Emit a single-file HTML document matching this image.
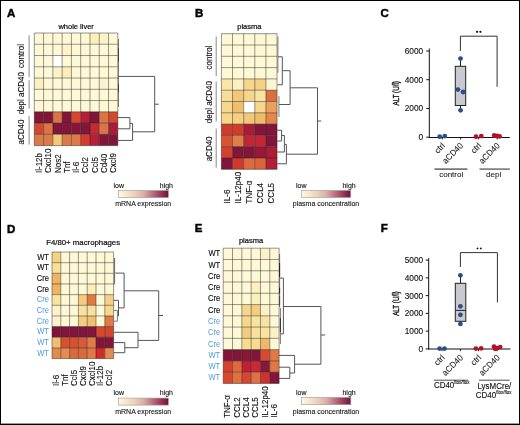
<!DOCTYPE html><html><head><meta charset="utf-8"><style>html,body{margin:0;padding:0;background:#fff;}body{width:520px;height:425px;overflow:hidden;position:relative;}</style></head><body><svg width="520" height="425" viewBox="0 0 520 425" style="position:absolute;left:0;top:0;will-change:transform">
<defs><linearGradient id="cb" x1="0" x2="1" y1="0" y2="0"><stop offset="0" stop-color="#fffbe0"/><stop offset="0.3" stop-color="#eed4bc"/><stop offset="0.5" stop-color="#dcb0aa"/><stop offset="0.7" stop-color="#b86a7a"/><stop offset="0.85" stop-color="#983858"/><stop offset="1" stop-color="#7c0c34"/></linearGradient></defs>
<g font-family='"Liberation Sans", sans-serif'>
<rect x="0.00" y="0.00" width="520.00" height="1.00" fill="#000" />
<rect x="0.00" y="0.00" width="1.00" height="425.00" fill="#000" />
<rect x="519.00" y="0.00" width="1.00" height="425.00" fill="#000" />
<rect x="0.00" y="423.60" width="520.00" height="1.40" fill="#000" />
<text font-size="11.5" text-anchor="start" fill="#000" font-weight="bold" transform="translate(7.00 16.70)" stroke="#000" stroke-width="0.45" >A</text>
<text font-size="11.5" text-anchor="start" fill="#000" font-weight="bold" transform="translate(195.00 16.80)" stroke="#000" stroke-width="0.45" >B</text>
<text font-size="11.5" text-anchor="start" fill="#000" font-weight="bold" transform="translate(380.40 16.80)" stroke="#000" stroke-width="0.45" >C</text>
<text font-size="11.5" text-anchor="start" fill="#000" font-weight="bold" transform="translate(7.00 232.50)" stroke="#000" stroke-width="0.45" >D</text>
<text font-size="11.5" text-anchor="start" fill="#000" font-weight="bold" transform="translate(194.80 232.30)" stroke="#000" stroke-width="0.45" >E</text>
<text font-size="11.5" text-anchor="start" fill="#000" font-weight="bold" transform="translate(380.80 232.30)" stroke="#000" stroke-width="0.45" >F</text>
<text font-size="7.5" text-anchor="middle" fill="#111" font-weight="normal" transform="translate(76.10 29.40)" stroke="#111" stroke-width="0.22" >whole liver</text>
<rect x="34.30" y="33.00" width="9.28" height="11.26" fill="#fdf9d7" />
<rect x="43.58" y="33.00" width="9.28" height="11.26" fill="#fdf9d7" />
<rect x="52.86" y="33.00" width="9.28" height="11.26" fill="#fdf9d7" />
<rect x="62.14" y="33.00" width="9.28" height="11.26" fill="#fdf9d7" />
<rect x="71.42" y="33.00" width="9.28" height="11.26" fill="#fdf9d7" />
<rect x="80.70" y="33.00" width="9.28" height="11.26" fill="#fdf9d7" />
<rect x="89.98" y="33.00" width="9.28" height="11.26" fill="#fbefbe" />
<rect x="99.26" y="33.00" width="9.28" height="11.26" fill="#fbf2c8" />
<rect x="108.54" y="33.00" width="9.28" height="11.26" fill="#fdf9d7" />
<rect x="34.30" y="44.26" width="9.28" height="11.26" fill="#fdf9d7" />
<rect x="43.58" y="44.26" width="9.28" height="11.26" fill="#fdf9d7" />
<rect x="52.86" y="44.26" width="9.28" height="11.26" fill="#fdf9d7" />
<rect x="62.14" y="44.26" width="9.28" height="11.26" fill="#fbf4cc" />
<rect x="71.42" y="44.26" width="9.28" height="11.26" fill="#fdf9d7" />
<rect x="80.70" y="44.26" width="9.28" height="11.26" fill="#fdf9d7" />
<rect x="89.98" y="44.26" width="9.28" height="11.26" fill="#fdf9d7" />
<rect x="99.26" y="44.26" width="9.28" height="11.26" fill="#fdf9d7" />
<rect x="108.54" y="44.26" width="9.28" height="11.26" fill="#fdf9d7" />
<rect x="34.30" y="55.52" width="9.28" height="11.26" fill="#fdf9d7" />
<rect x="43.58" y="55.52" width="9.28" height="11.26" fill="#fdf9d7" />
<rect x="52.86" y="55.52" width="9.28" height="11.26" fill="#ffffff" />
<rect x="62.14" y="55.52" width="9.28" height="11.26" fill="#fdf9d7" />
<rect x="71.42" y="55.52" width="9.28" height="11.26" fill="#fdf9d7" />
<rect x="80.70" y="55.52" width="9.28" height="11.26" fill="#fdf9d7" />
<rect x="89.98" y="55.52" width="9.28" height="11.26" fill="#fdf9d7" />
<rect x="99.26" y="55.52" width="9.28" height="11.26" fill="#fdf9d7" />
<rect x="108.54" y="55.52" width="9.28" height="11.26" fill="#fdf9d7" />
<rect x="34.30" y="66.78" width="9.28" height="11.26" fill="#fdf9d7" />
<rect x="43.58" y="66.78" width="9.28" height="11.26" fill="#fdf9d7" />
<rect x="52.86" y="66.78" width="9.28" height="11.26" fill="#fbf3c8" />
<rect x="62.14" y="66.78" width="9.28" height="11.26" fill="#faedb8" />
<rect x="71.42" y="66.78" width="9.28" height="11.26" fill="#fdf9d7" />
<rect x="80.70" y="66.78" width="9.28" height="11.26" fill="#fdf9d7" />
<rect x="89.98" y="66.78" width="9.28" height="11.26" fill="#fdf9d7" />
<rect x="99.26" y="66.78" width="9.28" height="11.26" fill="#fdf9d7" />
<rect x="108.54" y="66.78" width="9.28" height="11.26" fill="#fdf9d7" />
<rect x="34.30" y="78.04" width="9.28" height="11.26" fill="#fbf0c4" />
<rect x="43.58" y="78.04" width="9.28" height="11.26" fill="#fdf9d7" />
<rect x="52.86" y="78.04" width="9.28" height="11.26" fill="#fdf9d7" />
<rect x="62.14" y="78.04" width="9.28" height="11.26" fill="#fdf9d7" />
<rect x="71.42" y="78.04" width="9.28" height="11.26" fill="#fdf9d7" />
<rect x="80.70" y="78.04" width="9.28" height="11.26" fill="#fdf9d7" />
<rect x="89.98" y="78.04" width="9.28" height="11.26" fill="#fdf9d7" />
<rect x="99.26" y="78.04" width="9.28" height="11.26" fill="#fbf3cc" />
<rect x="108.54" y="78.04" width="9.28" height="11.26" fill="#fdf9d7" />
<rect x="34.30" y="89.30" width="9.28" height="11.26" fill="#fdf9d7" />
<rect x="43.58" y="89.30" width="9.28" height="11.26" fill="#fdf9d7" />
<rect x="52.86" y="89.30" width="9.28" height="11.26" fill="#fdf9d7" />
<rect x="62.14" y="89.30" width="9.28" height="11.26" fill="#fdf9d7" />
<rect x="71.42" y="89.30" width="9.28" height="11.26" fill="#fdf9d7" />
<rect x="80.70" y="89.30" width="9.28" height="11.26" fill="#fdf9d7" />
<rect x="89.98" y="89.30" width="9.28" height="11.26" fill="#fdf9d7" />
<rect x="99.26" y="89.30" width="9.28" height="11.26" fill="#fdf9d7" />
<rect x="108.54" y="89.30" width="9.28" height="11.26" fill="#fdf9d7" />
<rect x="34.30" y="100.56" width="9.28" height="11.26" fill="#fdf9d7" />
<rect x="43.58" y="100.56" width="9.28" height="11.26" fill="#fdf9d7" />
<rect x="52.86" y="100.56" width="9.28" height="11.26" fill="#fdf9d7" />
<rect x="62.14" y="100.56" width="9.28" height="11.26" fill="#fdf9d7" />
<rect x="71.42" y="100.56" width="9.28" height="11.26" fill="#fdf9d7" />
<rect x="80.70" y="100.56" width="9.28" height="11.26" fill="#fdf9d7" />
<rect x="89.98" y="100.56" width="9.28" height="11.26" fill="#fdf9d7" />
<rect x="99.26" y="100.56" width="9.28" height="11.26" fill="#fdf9d7" />
<rect x="108.54" y="100.56" width="9.28" height="11.26" fill="#fdf9d7" />
<rect x="34.30" y="111.82" width="9.28" height="11.26" fill="#82163a" />
<rect x="43.58" y="111.82" width="9.28" height="11.26" fill="#82163a" />
<rect x="52.86" y="111.82" width="9.28" height="11.26" fill="#db7447" />
<rect x="62.14" y="111.82" width="9.28" height="11.26" fill="#82163a" />
<rect x="71.42" y="111.82" width="9.28" height="11.26" fill="#d5472f" />
<rect x="80.70" y="111.82" width="9.28" height="11.26" fill="#b51f3a" />
<rect x="89.98" y="111.82" width="9.28" height="11.26" fill="#82163a" />
<rect x="99.26" y="111.82" width="9.28" height="11.26" fill="#db7447" />
<rect x="108.54" y="111.82" width="9.28" height="11.26" fill="#d5472f" />
<rect x="34.30" y="123.08" width="9.28" height="11.26" fill="#d5472f" />
<rect x="43.58" y="123.08" width="9.28" height="11.26" fill="#db7447" />
<rect x="52.86" y="123.08" width="9.28" height="11.26" fill="#82163a" />
<rect x="62.14" y="123.08" width="9.28" height="11.26" fill="#82163a" />
<rect x="71.42" y="123.08" width="9.28" height="11.26" fill="#82163a" />
<rect x="80.70" y="123.08" width="9.28" height="11.26" fill="#82163a" />
<rect x="89.98" y="123.08" width="9.28" height="11.26" fill="#c42a36" />
<rect x="99.26" y="123.08" width="9.28" height="11.26" fill="#db7447" />
<rect x="108.54" y="123.08" width="9.28" height="11.26" fill="#a81d3a" />
<rect x="34.30" y="134.34" width="9.28" height="11.26" fill="#dc7a49" />
<rect x="43.58" y="134.34" width="9.28" height="11.26" fill="#dc7a49" />
<rect x="52.86" y="134.34" width="9.28" height="11.26" fill="#f2c97a" />
<rect x="62.14" y="134.34" width="9.28" height="11.26" fill="#dc7a49" />
<rect x="71.42" y="134.34" width="9.28" height="11.26" fill="#dc7a49" />
<rect x="80.70" y="134.34" width="9.28" height="11.26" fill="#d53b2e" />
<rect x="89.98" y="134.34" width="9.28" height="11.26" fill="#b51f3a" />
<rect x="99.26" y="134.34" width="9.28" height="11.26" fill="#82163a" />
<rect x="108.54" y="134.34" width="9.28" height="11.26" fill="#82163a" />
<line x1="34.30" y1="33.00" x2="34.30" y2="145.60" stroke="rgba(30,25,15,0.5)" stroke-width="0.9" />
<line x1="43.58" y1="33.00" x2="43.58" y2="145.60" stroke="rgba(30,25,15,0.5)" stroke-width="0.9" />
<line x1="52.86" y1="33.00" x2="52.86" y2="145.60" stroke="rgba(30,25,15,0.5)" stroke-width="0.9" />
<line x1="62.14" y1="33.00" x2="62.14" y2="145.60" stroke="rgba(30,25,15,0.5)" stroke-width="0.9" />
<line x1="71.42" y1="33.00" x2="71.42" y2="145.60" stroke="rgba(30,25,15,0.5)" stroke-width="0.9" />
<line x1="80.70" y1="33.00" x2="80.70" y2="145.60" stroke="rgba(30,25,15,0.5)" stroke-width="0.9" />
<line x1="89.98" y1="33.00" x2="89.98" y2="145.60" stroke="rgba(30,25,15,0.5)" stroke-width="0.9" />
<line x1="99.26" y1="33.00" x2="99.26" y2="145.60" stroke="rgba(30,25,15,0.5)" stroke-width="0.9" />
<line x1="108.54" y1="33.00" x2="108.54" y2="145.60" stroke="rgba(30,25,15,0.5)" stroke-width="0.9" />
<line x1="117.82" y1="33.00" x2="117.82" y2="145.60" stroke="rgba(30,25,15,0.5)" stroke-width="0.9" />
<line x1="34.30" y1="33.00" x2="117.82" y2="33.00" stroke="rgba(30,25,15,0.5)" stroke-width="0.9" />
<line x1="34.30" y1="44.26" x2="117.82" y2="44.26" stroke="rgba(30,25,15,0.5)" stroke-width="0.9" />
<line x1="34.30" y1="55.52" x2="117.82" y2="55.52" stroke="rgba(30,25,15,0.5)" stroke-width="0.9" />
<line x1="34.30" y1="66.78" x2="117.82" y2="66.78" stroke="rgba(30,25,15,0.5)" stroke-width="0.9" />
<line x1="34.30" y1="78.04" x2="117.82" y2="78.04" stroke="rgba(30,25,15,0.5)" stroke-width="0.9" />
<line x1="34.30" y1="89.30" x2="117.82" y2="89.30" stroke="rgba(30,25,15,0.5)" stroke-width="0.9" />
<line x1="34.30" y1="100.56" x2="117.82" y2="100.56" stroke="rgba(30,25,15,0.5)" stroke-width="0.9" />
<line x1="34.30" y1="111.82" x2="117.82" y2="111.82" stroke="rgba(30,25,15,0.5)" stroke-width="0.9" />
<line x1="34.30" y1="123.08" x2="117.82" y2="123.08" stroke="rgba(30,25,15,0.5)" stroke-width="0.9" />
<line x1="34.30" y1="134.34" x2="117.82" y2="134.34" stroke="rgba(30,25,15,0.5)" stroke-width="0.9" />
<line x1="34.30" y1="145.60" x2="117.82" y2="145.60" stroke="rgba(30,25,15,0.5)" stroke-width="0.9" />
<line x1="29.10" y1="35.40" x2="29.10" y2="77.10" stroke="#888" stroke-width="1" />
<line x1="29.10" y1="80.30" x2="29.10" y2="108.50" stroke="#888" stroke-width="1" />
<line x1="29.10" y1="116.00" x2="29.10" y2="144.70" stroke="#888" stroke-width="1" />
<text font-size="8" text-anchor="middle" fill="#111" font-weight="normal" transform="translate(24.20 56.00) rotate(-90) scale(1.0 1.1)" stroke="#111" stroke-width="0.12" >control</text>
<text font-size="8" text-anchor="middle" fill="#111" font-weight="normal" transform="translate(24.20 93.20) rotate(-90) scale(1.0 1.1)" stroke="#111" stroke-width="0.12" >depl aCD40</text>
<text font-size="8" text-anchor="middle" fill="#111" font-weight="normal" transform="translate(24.20 132.00) rotate(-90) scale(1.0 1.1)" stroke="#111" stroke-width="0.12" >aCD40</text>
<text font-size="8" text-anchor="start" fill="#111" font-weight="normal" transform="translate(41.94 173.00) rotate(-90) scale(1.0 1.1)" stroke="#111" stroke-width="0.12" >Il-12b</text>
<text font-size="8" text-anchor="start" fill="#111" font-weight="normal" transform="translate(51.22 173.00) rotate(-90) scale(1.0 1.1)" stroke="#111" stroke-width="0.12" >Cxcl10</text>
<text font-size="8" text-anchor="start" fill="#111" font-weight="normal" transform="translate(60.50 173.00) rotate(-90) scale(1.0 1.1)" stroke="#111" stroke-width="0.12" >Nos2</text>
<text font-size="8" text-anchor="start" fill="#111" font-weight="normal" transform="translate(69.78 173.00) rotate(-90) scale(1.0 1.1)" stroke="#111" stroke-width="0.12" >Tnf</text>
<text font-size="8" text-anchor="start" fill="#111" font-weight="normal" transform="translate(79.06 173.00) rotate(-90) scale(1.0 1.1)" stroke="#111" stroke-width="0.12" >Il-6</text>
<text font-size="8" text-anchor="start" fill="#111" font-weight="normal" transform="translate(88.34 173.00) rotate(-90) scale(1.0 1.1)" stroke="#111" stroke-width="0.12" >Ccl2</text>
<text font-size="8" text-anchor="start" fill="#111" font-weight="normal" transform="translate(97.62 173.00) rotate(-90) scale(1.0 1.1)" stroke="#111" stroke-width="0.12" >Ccl5</text>
<text font-size="8" text-anchor="start" fill="#111" font-weight="normal" transform="translate(106.90 173.00) rotate(-90) scale(1.0 1.1)" stroke="#111" stroke-width="0.12" >Cd40</text>
<text font-size="8" text-anchor="start" fill="#111" font-weight="normal" transform="translate(116.18 173.00) rotate(-90) scale(1.0 1.1)" stroke="#111" stroke-width="0.12" >Cxcl9</text>
<line x1="118.50" y1="39.00" x2="118.50" y2="107.00" stroke="#777" stroke-width="1" />
<line x1="118.50" y1="48.00" x2="118.50" y2="62.00" stroke="#444" stroke-width="1" />
<line x1="118.50" y1="84.00" x2="118.50" y2="92.00" stroke="#444" stroke-width="1" />
<polyline points="118.50,76.40 154.70,76.40 154.70,131.80 132.60,131.80" fill="none" stroke="#555" stroke-width="1"/>
<polyline points="117.60,117.60 129.90,117.60 129.90,128.80 117.60,128.80" fill="none" stroke="#555" stroke-width="1"/>
<polyline points="129.90,123.40 132.60,123.40 132.60,140.40 117.60,140.40" fill="none" stroke="#555" stroke-width="1"/>
<line x1="154.70" y1="104.20" x2="158.80" y2="104.20" stroke="#555" stroke-width="1" />
<text font-size="7" text-anchor="start" fill="#111" font-weight="normal" transform="translate(113.50 188.00) scale(1.0 1.1)" stroke="#111" stroke-width="0.12" >low</text>
<text font-size="7" text-anchor="end" fill="#111" font-weight="normal" transform="translate(173.00 188.00) scale(1.0 1.1)" stroke="#111" stroke-width="0.12" >high</text>
<rect x="118.30" y="190.60" width="50.00" height="7.00" fill="url(#cb)" stroke="#999" stroke-width="0.6"/>
<text font-size="7" text-anchor="middle" fill="#111" font-weight="normal" transform="translate(143.20 206.00) scale(1.0 1.1)" stroke="#111" stroke-width="0.1" >mRNA expression</text>
<text font-size="7.5" text-anchor="middle" fill="#111" font-weight="normal" transform="translate(249.30 29.40)" stroke="#111" stroke-width="0.22" >plasma</text>
<rect x="221.40" y="33.70" width="11.13" height="11.30" fill="#fdf9d7" />
<rect x="232.53" y="33.70" width="11.13" height="11.30" fill="#fdf9d7" />
<rect x="243.66" y="33.70" width="11.13" height="11.30" fill="#fdf9d7" />
<rect x="254.79" y="33.70" width="11.13" height="11.30" fill="#fdf9d7" />
<rect x="265.92" y="33.70" width="11.13" height="11.30" fill="#fdf9d7" />
<rect x="221.40" y="45.00" width="11.13" height="11.30" fill="#fdf9d7" />
<rect x="232.53" y="45.00" width="11.13" height="11.30" fill="#fdf9d7" />
<rect x="243.66" y="45.00" width="11.13" height="11.30" fill="#fdf9d7" />
<rect x="254.79" y="45.00" width="11.13" height="11.30" fill="#fdf9d7" />
<rect x="265.92" y="45.00" width="11.13" height="11.30" fill="#fdf9d7" />
<rect x="221.40" y="56.30" width="11.13" height="11.30" fill="#fdf9d7" />
<rect x="232.53" y="56.30" width="11.13" height="11.30" fill="#fdf9d7" />
<rect x="243.66" y="56.30" width="11.13" height="11.30" fill="#fdf9d7" />
<rect x="254.79" y="56.30" width="11.13" height="11.30" fill="#fdf9d7" />
<rect x="265.92" y="56.30" width="11.13" height="11.30" fill="#fdf9d7" />
<rect x="221.40" y="67.60" width="11.13" height="11.30" fill="#fdf9d7" />
<rect x="232.53" y="67.60" width="11.13" height="11.30" fill="#fdf9d7" />
<rect x="243.66" y="67.60" width="11.13" height="11.30" fill="#fdf9d7" />
<rect x="254.79" y="67.60" width="11.13" height="11.30" fill="#fdf9d7" />
<rect x="265.92" y="67.60" width="11.13" height="11.30" fill="#fdf9d7" />
<rect x="221.40" y="78.90" width="11.13" height="11.30" fill="#f9e6a8" />
<rect x="232.53" y="78.90" width="11.13" height="11.30" fill="#fbf0c2" />
<rect x="243.66" y="78.90" width="11.13" height="11.30" fill="#f5d68a" />
<rect x="254.79" y="78.90" width="11.13" height="11.30" fill="#f3d085" />
<rect x="265.92" y="78.90" width="11.13" height="11.30" fill="#fcf5d0" />
<rect x="221.40" y="90.20" width="11.13" height="11.30" fill="#f7de98" />
<rect x="232.53" y="90.20" width="11.13" height="11.30" fill="#f2c878" />
<rect x="243.66" y="90.20" width="11.13" height="11.30" fill="#f5d68a" />
<rect x="254.79" y="90.20" width="11.13" height="11.30" fill="#f8e4a0" />
<rect x="265.92" y="90.20" width="11.13" height="11.30" fill="#d8703f" />
<rect x="221.40" y="101.50" width="11.13" height="11.30" fill="#f5d68a" />
<rect x="232.53" y="101.50" width="11.13" height="11.30" fill="#efbf6c" />
<rect x="243.66" y="101.50" width="11.13" height="11.30" fill="#ffffff" />
<rect x="254.79" y="101.50" width="11.13" height="11.30" fill="#f5d68a" />
<rect x="265.92" y="101.50" width="11.13" height="11.30" fill="#e8a05a" />
<rect x="221.40" y="112.80" width="11.13" height="11.30" fill="#f5d68a" />
<rect x="232.53" y="112.80" width="11.13" height="11.30" fill="#f4d080" />
<rect x="243.66" y="112.80" width="11.13" height="11.30" fill="#f2c878" />
<rect x="254.79" y="112.80" width="11.13" height="11.30" fill="#efbc68" />
<rect x="265.92" y="112.80" width="11.13" height="11.30" fill="#e3874a" />
<rect x="221.40" y="124.10" width="11.13" height="11.30" fill="#d03c2c" />
<rect x="232.53" y="124.10" width="11.13" height="11.30" fill="#d03c2c" />
<rect x="243.66" y="124.10" width="11.13" height="11.30" fill="#a81c38" />
<rect x="254.79" y="124.10" width="11.13" height="11.30" fill="#82163a" />
<rect x="265.92" y="124.10" width="11.13" height="11.30" fill="#82163a" />
<rect x="221.40" y="135.40" width="11.13" height="11.30" fill="#d65432" />
<rect x="232.53" y="135.40" width="11.13" height="11.30" fill="#e07e4a" />
<rect x="243.66" y="135.40" width="11.13" height="11.30" fill="#c02636" />
<rect x="254.79" y="135.40" width="11.13" height="11.30" fill="#c42636" />
<rect x="265.92" y="135.40" width="11.13" height="11.30" fill="#82163a" />
<rect x="221.40" y="146.70" width="11.13" height="11.30" fill="#d4402e" />
<rect x="232.53" y="146.70" width="11.13" height="11.30" fill="#82163a" />
<rect x="243.66" y="146.70" width="11.13" height="11.30" fill="#82163a" />
<rect x="254.79" y="146.70" width="11.13" height="11.30" fill="#98183a" />
<rect x="265.92" y="146.70" width="11.13" height="11.30" fill="#ac1e38" />
<rect x="221.40" y="158.00" width="11.13" height="11.30" fill="#82163a" />
<rect x="232.53" y="158.00" width="11.13" height="11.30" fill="#d4382c" />
<rect x="243.66" y="158.00" width="11.13" height="11.30" fill="#dc6c40" />
<rect x="254.79" y="158.00" width="11.13" height="11.30" fill="#dc643c" />
<rect x="265.92" y="158.00" width="11.13" height="11.30" fill="#b02038" />
<line x1="221.40" y1="33.70" x2="221.40" y2="169.30" stroke="rgba(30,25,15,0.5)" stroke-width="0.9" />
<line x1="232.53" y1="33.70" x2="232.53" y2="169.30" stroke="rgba(30,25,15,0.5)" stroke-width="0.9" />
<line x1="243.66" y1="33.70" x2="243.66" y2="169.30" stroke="rgba(30,25,15,0.5)" stroke-width="0.9" />
<line x1="254.79" y1="33.70" x2="254.79" y2="169.30" stroke="rgba(30,25,15,0.5)" stroke-width="0.9" />
<line x1="265.92" y1="33.70" x2="265.92" y2="169.30" stroke="rgba(30,25,15,0.5)" stroke-width="0.9" />
<line x1="277.05" y1="33.70" x2="277.05" y2="169.30" stroke="rgba(30,25,15,0.5)" stroke-width="0.9" />
<line x1="221.40" y1="33.70" x2="277.05" y2="33.70" stroke="rgba(30,25,15,0.5)" stroke-width="0.9" />
<line x1="221.40" y1="45.00" x2="277.05" y2="45.00" stroke="rgba(30,25,15,0.5)" stroke-width="0.9" />
<line x1="221.40" y1="56.30" x2="277.05" y2="56.30" stroke="rgba(30,25,15,0.5)" stroke-width="0.9" />
<line x1="221.40" y1="67.60" x2="277.05" y2="67.60" stroke="rgba(30,25,15,0.5)" stroke-width="0.9" />
<line x1="221.40" y1="78.90" x2="277.05" y2="78.90" stroke="rgba(30,25,15,0.5)" stroke-width="0.9" />
<line x1="221.40" y1="90.20" x2="277.05" y2="90.20" stroke="rgba(30,25,15,0.5)" stroke-width="0.9" />
<line x1="221.40" y1="101.50" x2="277.05" y2="101.50" stroke="rgba(30,25,15,0.5)" stroke-width="0.9" />
<line x1="221.40" y1="112.80" x2="277.05" y2="112.80" stroke="rgba(30,25,15,0.5)" stroke-width="0.9" />
<line x1="221.40" y1="124.10" x2="277.05" y2="124.10" stroke="rgba(30,25,15,0.5)" stroke-width="0.9" />
<line x1="221.40" y1="135.40" x2="277.05" y2="135.40" stroke="rgba(30,25,15,0.5)" stroke-width="0.9" />
<line x1="221.40" y1="146.70" x2="277.05" y2="146.70" stroke="rgba(30,25,15,0.5)" stroke-width="0.9" />
<line x1="221.40" y1="158.00" x2="277.05" y2="158.00" stroke="rgba(30,25,15,0.5)" stroke-width="0.9" />
<line x1="221.40" y1="169.30" x2="277.05" y2="169.30" stroke="rgba(30,25,15,0.5)" stroke-width="0.9" />
<line x1="216.20" y1="36.50" x2="216.20" y2="76.20" stroke="#888" stroke-width="1" />
<line x1="216.20" y1="81.50" x2="216.20" y2="121.40" stroke="#888" stroke-width="1" />
<line x1="216.20" y1="128.60" x2="216.20" y2="167.60" stroke="#888" stroke-width="1" />
<text font-size="8" text-anchor="middle" fill="#111" font-weight="normal" transform="translate(212.30 57.40) rotate(-90) scale(1.0 1.1)" stroke="#111" stroke-width="0.12" >control</text>
<text font-size="8" text-anchor="middle" fill="#111" font-weight="normal" transform="translate(212.30 102.10) rotate(-90) scale(1.0 1.1)" stroke="#111" stroke-width="0.12" >depl aCD40</text>
<text font-size="8" text-anchor="middle" fill="#111" font-weight="normal" transform="translate(212.30 148.90) rotate(-90) scale(1.0 1.1)" stroke="#111" stroke-width="0.12" >aCD40</text>
<text font-size="8" text-anchor="start" fill="#111" font-weight="normal" transform="translate(229.97 203.40) rotate(-90) scale(1.0 1.1)" stroke="#111" stroke-width="0.12" >IL-6</text>
<text font-size="8" text-anchor="start" fill="#111" font-weight="normal" transform="translate(241.09 203.40) rotate(-90) scale(1.0 1.1)" stroke="#111" stroke-width="0.12" >IL-12p40</text>
<text font-size="8" text-anchor="start" fill="#111" font-weight="normal" transform="translate(252.23 203.40) rotate(-90) scale(1.0 1.1)" stroke="#111" stroke-width="0.12" >TNF-α</text>
<text font-size="8" text-anchor="start" fill="#111" font-weight="normal" transform="translate(263.36 203.40) rotate(-90) scale(1.0 1.1)" stroke="#111" stroke-width="0.12" >CCL4</text>
<text font-size="8" text-anchor="start" fill="#111" font-weight="normal" transform="translate(274.49 203.40) rotate(-90) scale(1.0 1.1)" stroke="#111" stroke-width="0.12" >CCL5</text>
<line x1="277.90" y1="36.60" x2="277.90" y2="72.80" stroke="#777" stroke-width="1" />
<polyline points="277.90,56.80 282.30,56.80 282.30,84.80 277.30,84.80" fill="none" stroke="#555" stroke-width="1"/>
<polyline points="282.30,70.70 290.10,70.70 290.10,104.50 278.90,104.50" fill="none" stroke="#555" stroke-width="1"/>
<line x1="278.90" y1="96.00" x2="278.90" y2="117.00" stroke="#777" stroke-width="1" />
<polyline points="290.10,87.80 317.50,87.80 317.50,154.20 286.40,154.20" fill="none" stroke="#555" stroke-width="1"/>
<polyline points="277.30,130.20 281.60,130.20 281.60,141.00 277.30,141.00" fill="none" stroke="#555" stroke-width="1"/>
<polyline points="281.60,135.50 284.40,135.50 284.40,152.00 277.30,152.00" fill="none" stroke="#555" stroke-width="1"/>
<polyline points="284.40,144.40 286.40,144.40 286.40,163.80 277.30,163.80" fill="none" stroke="#555" stroke-width="1"/>
<line x1="317.50" y1="121.00" x2="321.20" y2="121.00" stroke="#555" stroke-width="1" />
<text font-size="7" text-anchor="start" fill="#111" font-weight="normal" transform="translate(296.00 187.70) scale(1.0 1.1)" stroke="#111" stroke-width="0.12" >low</text>
<text font-size="7" text-anchor="end" fill="#111" font-weight="normal" transform="translate(355.70 187.70) scale(1.0 1.1)" stroke="#111" stroke-width="0.12" >high</text>
<rect x="301.40" y="190.50" width="49.30" height="7.00" fill="url(#cb)" stroke="#999" stroke-width="0.6"/>
<text font-size="7" text-anchor="middle" fill="#111" font-weight="normal" transform="translate(326.00 206.20) scale(1.0 1.1)" stroke="#111" stroke-width="0.1" >plasma concentration</text>
<line x1="429.30" y1="48.50" x2="429.30" y2="137.50" stroke="#111" stroke-width="1" />
<line x1="426.30" y1="137.20" x2="429.30" y2="137.20" stroke="#111" stroke-width="1" />
<text font-size="8.3" text-anchor="end" fill="#111" font-weight="normal" transform="translate(423.20 140.10)" stroke="#111" stroke-width="0.12" >0</text>
<line x1="426.30" y1="108.47" x2="429.30" y2="108.47" stroke="#111" stroke-width="1" />
<text font-size="8.3" text-anchor="end" fill="#111" font-weight="normal" transform="translate(423.20 111.37)" stroke="#111" stroke-width="0.12" >2000</text>
<line x1="426.30" y1="79.73" x2="429.30" y2="79.73" stroke="#111" stroke-width="1" />
<text font-size="8.3" text-anchor="end" fill="#111" font-weight="normal" transform="translate(423.20 82.63)" stroke="#111" stroke-width="0.12" >4000</text>
<line x1="426.30" y1="51.00" x2="429.30" y2="51.00" stroke="#111" stroke-width="1" />
<text font-size="8.3" text-anchor="end" fill="#111" font-weight="normal" transform="translate(423.20 53.90)" stroke="#111" stroke-width="0.12" >6000</text>
<text font-size="8.6" text-anchor="middle" fill="#111" font-weight="normal" transform="translate(398.90 93.30) rotate(-90) scale(0.73 1.05)" stroke="#111" stroke-width="0.35" >ALT (U/l)</text>
<line x1="428.80" y1="137.50" x2="509.80" y2="137.50" stroke="#111" stroke-width="1.1" />
<line x1="442.40" y1="137.50" x2="442.40" y2="139.50" stroke="#111" stroke-width="0.9" />
<line x1="460.60" y1="137.50" x2="460.60" y2="139.50" stroke="#111" stroke-width="0.9" />
<line x1="478.70" y1="137.50" x2="478.70" y2="139.50" stroke="#111" stroke-width="0.9" />
<line x1="497.20" y1="137.50" x2="497.20" y2="139.50" stroke="#111" stroke-width="0.9" />
<rect x="455.3" y="66.3" width="10.4" height="39.2" fill="#c9c9d1" stroke="#222" stroke-width="1"/>
<line x1="460.50" y1="58.60" x2="460.50" y2="66.30" stroke="#222" stroke-width="1" />
<line x1="460.50" y1="105.50" x2="460.50" y2="110.30" stroke="#222" stroke-width="1" />
<circle cx="460.5" cy="58.6" r="2.4" fill="#2b4d8c"/>
<circle cx="457.9" cy="89.6" r="2.4" fill="#2b4d8c"/>
<circle cx="463.1" cy="92.0" r="2.4" fill="#2b4d8c"/>
<circle cx="460.6" cy="110.3" r="2.4" fill="#2b4d8c"/>
<circle cx="439.7" cy="136.7" r="2.4" fill="#2b4d8c"/>
<circle cx="444.8" cy="136.1" r="2.4" fill="#2b4d8c"/>
<circle cx="476" cy="136.7" r="2.4" fill="#b3102c"/>
<circle cx="481.3" cy="136.1" r="2.4" fill="#b3102c"/>
<circle cx="494.2" cy="135.5" r="2.4" fill="#b3102c"/>
<circle cx="497.2" cy="136" r="2.4" fill="#b3102c"/>
<circle cx="499.6" cy="136.4" r="2.4" fill="#b3102c"/>
<polyline points="460.40,51.00 460.40,36.20 497.10,36.20 497.10,86.80" fill="none" stroke="#333" stroke-width="1"/>
<circle cx="477.1" cy="31.8" r="1.1" fill="#111"/><circle cx="480.4" cy="31.8" r="1.1" fill="#111"/>
<text font-size="8.2" text-anchor="end" fill="#111" font-weight="normal" transform="translate(445.60 146.20) rotate(-45) scale(1.0 1.05)" stroke="#111" stroke-width="0.05" >ctrl</text>
<text font-size="8.2" text-anchor="end" fill="#111" font-weight="normal" transform="translate(463.80 146.20) rotate(-45) scale(1.0 1.05)" stroke="#111" stroke-width="0.05" >aCD40</text>
<text font-size="8.2" text-anchor="end" fill="#111" font-weight="normal" transform="translate(481.90 146.20) rotate(-45) scale(1.0 1.05)" stroke="#111" stroke-width="0.05" >ctrl</text>
<text font-size="8.2" text-anchor="end" fill="#111" font-weight="normal" transform="translate(500.40 146.20) rotate(-45) scale(1.0 1.05)" stroke="#111" stroke-width="0.05" >aCD40</text>
<line x1="434.50" y1="169.10" x2="467.40" y2="169.10" stroke="#777" stroke-width="1.6" />
<line x1="479.50" y1="169.10" x2="509.80" y2="169.10" stroke="#777" stroke-width="1.6" />
<text font-size="8" text-anchor="middle" fill="#222" font-weight="normal" transform="translate(451.20 177.20)" stroke="#222" stroke-width="0.1" >control</text>
<text font-size="8" text-anchor="middle" fill="#222" font-weight="normal" transform="translate(493.60 177.20)" stroke="#222" stroke-width="0.1" >depl</text>
<text font-size="7.8" text-anchor="middle" fill="#111" font-weight="normal" transform="translate(83.10 245.20)" stroke="#111" stroke-width="0.22" >F4/80+ macrophages</text>
<rect x="52.00" y="252.00" width="8.80" height="10.66" fill="#f4d284" />
<rect x="60.80" y="252.00" width="8.80" height="10.66" fill="#fdf9d7" />
<rect x="69.60" y="252.00" width="8.80" height="10.66" fill="#fdf9d7" />
<rect x="78.40" y="252.00" width="8.80" height="10.66" fill="#fdf9d7" />
<rect x="87.20" y="252.00" width="8.80" height="10.66" fill="#fdf9d7" />
<rect x="96.00" y="252.00" width="8.80" height="10.66" fill="#fdf9d7" />
<rect x="104.80" y="252.00" width="8.80" height="10.66" fill="#fdf9d7" />
<rect x="52.00" y="262.66" width="8.80" height="10.66" fill="#f7e098" />
<rect x="60.80" y="262.66" width="8.80" height="10.66" fill="#fdf9d7" />
<rect x="69.60" y="262.66" width="8.80" height="10.66" fill="#fdf9d7" />
<rect x="78.40" y="262.66" width="8.80" height="10.66" fill="#fdf9d7" />
<rect x="87.20" y="262.66" width="8.80" height="10.66" fill="#fdf9d7" />
<rect x="96.00" y="262.66" width="8.80" height="10.66" fill="#fdf9d7" />
<rect x="104.80" y="262.66" width="8.80" height="10.66" fill="#fdf9d7" />
<rect x="52.00" y="273.32" width="8.80" height="10.66" fill="#edb464" />
<rect x="60.80" y="273.32" width="8.80" height="10.66" fill="#fdf9d7" />
<rect x="69.60" y="273.32" width="8.80" height="10.66" fill="#fdf9d7" />
<rect x="78.40" y="273.32" width="8.80" height="10.66" fill="#fdf9d7" />
<rect x="87.20" y="273.32" width="8.80" height="10.66" fill="#fdf9d7" />
<rect x="96.00" y="273.32" width="8.80" height="10.66" fill="#fdf9d7" />
<rect x="104.80" y="273.32" width="8.80" height="10.66" fill="#fdf9d7" />
<rect x="52.00" y="283.98" width="8.80" height="10.66" fill="#edb464" />
<rect x="60.80" y="283.98" width="8.80" height="10.66" fill="#fdf9d7" />
<rect x="69.60" y="283.98" width="8.80" height="10.66" fill="#fdf9d7" />
<rect x="78.40" y="283.98" width="8.80" height="10.66" fill="#fdf9d7" />
<rect x="87.20" y="283.98" width="8.80" height="10.66" fill="#fbefb8" />
<rect x="96.00" y="283.98" width="8.80" height="10.66" fill="#fdf9d7" />
<rect x="104.80" y="283.98" width="8.80" height="10.66" fill="#fdf9d7" />
<rect x="52.00" y="294.64" width="8.80" height="10.66" fill="#f8e4a0" />
<rect x="60.80" y="294.64" width="8.80" height="10.66" fill="#fdf9d7" />
<rect x="69.60" y="294.64" width="8.80" height="10.66" fill="#fdf9d7" />
<rect x="78.40" y="294.64" width="8.80" height="10.66" fill="#f3cc80" />
<rect x="87.20" y="294.64" width="8.80" height="10.66" fill="#e07a45" />
<rect x="96.00" y="294.64" width="8.80" height="10.66" fill="#fdf9d7" />
<rect x="104.80" y="294.64" width="8.80" height="10.66" fill="#f3d08a" />
<rect x="52.00" y="305.30" width="8.80" height="10.66" fill="#fcf3cc" />
<rect x="60.80" y="305.30" width="8.80" height="10.66" fill="#fdf9d7" />
<rect x="69.60" y="305.30" width="8.80" height="10.66" fill="#fdf9d7" />
<rect x="78.40" y="305.30" width="8.80" height="10.66" fill="#f8e0a0" />
<rect x="87.20" y="305.30" width="8.80" height="10.66" fill="#f8e0a0" />
<rect x="96.00" y="305.30" width="8.80" height="10.66" fill="#fdf9d7" />
<rect x="104.80" y="305.30" width="8.80" height="10.66" fill="#f5d890" />
<rect x="52.00" y="315.96" width="8.80" height="10.66" fill="#fcf3cc" />
<rect x="60.80" y="315.96" width="8.80" height="10.66" fill="#fdf9d7" />
<rect x="69.60" y="315.96" width="8.80" height="10.66" fill="#fdf9d7" />
<rect x="78.40" y="315.96" width="8.80" height="10.66" fill="#f3cc80" />
<rect x="87.20" y="315.96" width="8.80" height="10.66" fill="#f0c070" />
<rect x="96.00" y="315.96" width="8.80" height="10.66" fill="#fdf9d7" />
<rect x="104.80" y="315.96" width="8.80" height="10.66" fill="#e07a45" />
<rect x="52.00" y="326.62" width="8.80" height="10.66" fill="#82163a" />
<rect x="60.80" y="326.62" width="8.80" height="10.66" fill="#82163a" />
<rect x="69.60" y="326.62" width="8.80" height="10.66" fill="#82163a" />
<rect x="78.40" y="326.62" width="8.80" height="10.66" fill="#82163a" />
<rect x="87.20" y="326.62" width="8.80" height="10.66" fill="#82163a" />
<rect x="96.00" y="326.62" width="8.80" height="10.66" fill="#d24830" />
<rect x="104.80" y="326.62" width="8.80" height="10.66" fill="#d4462e" />
<rect x="52.00" y="337.28" width="8.80" height="10.66" fill="#f0c070" />
<rect x="60.80" y="337.28" width="8.80" height="10.66" fill="#d85030" />
<rect x="69.60" y="337.28" width="8.80" height="10.66" fill="#d85030" />
<rect x="78.40" y="337.28" width="8.80" height="10.66" fill="#d8583a" />
<rect x="87.20" y="337.28" width="8.80" height="10.66" fill="#e07a48" />
<rect x="96.00" y="337.28" width="8.80" height="10.66" fill="#82163a" />
<rect x="104.80" y="337.28" width="8.80" height="10.66" fill="#82163a" />
<rect x="52.00" y="347.94" width="8.80" height="10.66" fill="#e08c50" />
<rect x="60.80" y="347.94" width="8.80" height="10.66" fill="#e08c52" />
<rect x="69.60" y="347.94" width="8.80" height="10.66" fill="#d96a3c" />
<rect x="78.40" y="347.94" width="8.80" height="10.66" fill="#d96a3c" />
<rect x="87.20" y="347.94" width="8.80" height="10.66" fill="#e07848" />
<rect x="96.00" y="347.94" width="8.80" height="10.66" fill="#d02a2a" />
<rect x="104.80" y="347.94" width="8.80" height="10.66" fill="#e08c50" />
<line x1="52.00" y1="252.00" x2="52.00" y2="358.60" stroke="rgba(30,25,15,0.5)" stroke-width="0.9" />
<line x1="60.80" y1="252.00" x2="60.80" y2="358.60" stroke="rgba(30,25,15,0.5)" stroke-width="0.9" />
<line x1="69.60" y1="252.00" x2="69.60" y2="358.60" stroke="rgba(30,25,15,0.5)" stroke-width="0.9" />
<line x1="78.40" y1="252.00" x2="78.40" y2="358.60" stroke="rgba(30,25,15,0.5)" stroke-width="0.9" />
<line x1="87.20" y1="252.00" x2="87.20" y2="358.60" stroke="rgba(30,25,15,0.5)" stroke-width="0.9" />
<line x1="96.00" y1="252.00" x2="96.00" y2="358.60" stroke="rgba(30,25,15,0.5)" stroke-width="0.9" />
<line x1="104.80" y1="252.00" x2="104.80" y2="358.60" stroke="rgba(30,25,15,0.5)" stroke-width="0.9" />
<line x1="113.60" y1="252.00" x2="113.60" y2="358.60" stroke="rgba(30,25,15,0.5)" stroke-width="0.9" />
<line x1="52.00" y1="252.00" x2="113.60" y2="252.00" stroke="rgba(30,25,15,0.5)" stroke-width="0.9" />
<line x1="52.00" y1="262.66" x2="113.60" y2="262.66" stroke="rgba(30,25,15,0.5)" stroke-width="0.9" />
<line x1="52.00" y1="273.32" x2="113.60" y2="273.32" stroke="rgba(30,25,15,0.5)" stroke-width="0.9" />
<line x1="52.00" y1="283.98" x2="113.60" y2="283.98" stroke="rgba(30,25,15,0.5)" stroke-width="0.9" />
<line x1="52.00" y1="294.64" x2="113.60" y2="294.64" stroke="rgba(30,25,15,0.5)" stroke-width="0.9" />
<line x1="52.00" y1="305.30" x2="113.60" y2="305.30" stroke="rgba(30,25,15,0.5)" stroke-width="0.9" />
<line x1="52.00" y1="315.96" x2="113.60" y2="315.96" stroke="rgba(30,25,15,0.5)" stroke-width="0.9" />
<line x1="52.00" y1="326.62" x2="113.60" y2="326.62" stroke="rgba(30,25,15,0.5)" stroke-width="0.9" />
<line x1="52.00" y1="337.28" x2="113.60" y2="337.28" stroke="rgba(30,25,15,0.5)" stroke-width="0.9" />
<line x1="52.00" y1="347.94" x2="113.60" y2="347.94" stroke="rgba(30,25,15,0.5)" stroke-width="0.9" />
<line x1="52.00" y1="358.60" x2="113.60" y2="358.60" stroke="rgba(30,25,15,0.5)" stroke-width="0.9" />
<text font-size="8" text-anchor="end" fill="#111" font-weight="normal" transform="translate(49.00 259.83) scale(0.95 1.05)" stroke="#111" stroke-width="0.15" >WT</text>
<text font-size="8" text-anchor="end" fill="#111" font-weight="normal" transform="translate(49.00 270.49) scale(0.95 1.05)" stroke="#111" stroke-width="0.15" >WT</text>
<text font-size="8" text-anchor="end" fill="#111" font-weight="normal" transform="translate(49.00 281.15) scale(0.95 1.05)" stroke="#111" stroke-width="0.15" >Cre</text>
<text font-size="8" text-anchor="end" fill="#111" font-weight="normal" transform="translate(49.00 291.81) scale(0.95 1.05)" stroke="#111" stroke-width="0.15" >Cre</text>
<text font-size="8" text-anchor="end" fill="#4f9ade" font-weight="normal" transform="translate(49.00 302.47) scale(0.95 1.05)" >Cre</text>
<text font-size="8" text-anchor="end" fill="#4f9ade" font-weight="normal" transform="translate(49.00 313.13) scale(0.95 1.05)" >Cre</text>
<text font-size="8" text-anchor="end" fill="#4f9ade" font-weight="normal" transform="translate(49.00 323.79) scale(0.95 1.05)" >Cre</text>
<text font-size="8" text-anchor="end" fill="#4f9ade" font-weight="normal" transform="translate(49.00 334.45) scale(0.95 1.05)" >WT</text>
<text font-size="8" text-anchor="end" fill="#4f9ade" font-weight="normal" transform="translate(49.00 345.11) scale(0.95 1.05)" >WT</text>
<text font-size="8" text-anchor="end" fill="#4f9ade" font-weight="normal" transform="translate(49.00 355.77) scale(0.95 1.05)" >WT</text>
<text font-size="8" text-anchor="start" fill="#111" font-weight="normal" transform="translate(59.40 385.90) rotate(-90) scale(1.0 1.1)" stroke="#111" stroke-width="0.12" >Il-6</text>
<text font-size="8" text-anchor="start" fill="#111" font-weight="normal" transform="translate(68.20 385.90) rotate(-90) scale(1.0 1.1)" stroke="#111" stroke-width="0.12" >Tnf</text>
<text font-size="8" text-anchor="start" fill="#111" font-weight="normal" transform="translate(77.00 385.90) rotate(-90) scale(1.0 1.1)" stroke="#111" stroke-width="0.12" >Ccl5</text>
<text font-size="8" text-anchor="start" fill="#111" font-weight="normal" transform="translate(85.80 385.90) rotate(-90) scale(1.0 1.1)" stroke="#111" stroke-width="0.12" >Cxcl9</text>
<text font-size="8" text-anchor="start" fill="#111" font-weight="normal" transform="translate(94.60 385.90) rotate(-90) scale(1.0 1.1)" stroke="#111" stroke-width="0.12" >Cxcl10</text>
<text font-size="8" text-anchor="start" fill="#111" font-weight="normal" transform="translate(103.40 385.90) rotate(-90) scale(1.0 1.1)" stroke="#111" stroke-width="0.12" >Il-12b</text>
<text font-size="8" text-anchor="start" fill="#111" font-weight="normal" transform="translate(112.20 385.90) rotate(-90) scale(1.0 1.1)" stroke="#111" stroke-width="0.12" >Ccl2</text>
<line x1="114.60" y1="258.00" x2="114.60" y2="284.40" stroke="#666" stroke-width="1" />
<polyline points="115.20,273.10 124.10,273.10 124.10,307.90 118.50,307.90" fill="none" stroke="#555" stroke-width="1"/>
<polyline points="113.60,300.30 118.50,300.30 118.50,315.90 117.40,315.90" fill="none" stroke="#555" stroke-width="1"/>
<polyline points="113.60,310.50 117.40,310.50 117.40,321.20 113.60,321.20" fill="none" stroke="#777" stroke-width="1"/>
<polyline points="124.10,290.80 158.70,290.80 158.70,340.40 138.00,340.40" fill="none" stroke="#555" stroke-width="1"/>
<polyline points="113.60,332.30 138.00,332.30 138.00,347.70 124.80,347.70" fill="none" stroke="#555" stroke-width="1"/>
<polyline points="113.60,342.60 124.80,342.60 124.80,352.70 113.60,352.70" fill="none" stroke="#555" stroke-width="1"/>
<line x1="158.70" y1="315.50" x2="163.00" y2="315.50" stroke="#555" stroke-width="1" />
<text font-size="7" text-anchor="start" fill="#111" font-weight="normal" transform="translate(113.50 395.40) scale(1.0 1.1)" stroke="#111" stroke-width="0.12" >low</text>
<text font-size="7" text-anchor="end" fill="#111" font-weight="normal" transform="translate(173.00 395.40) scale(1.0 1.1)" stroke="#111" stroke-width="0.12" >high</text>
<rect x="118.30" y="398.10" width="50.00" height="7.00" fill="url(#cb)" stroke="#999" stroke-width="0.6"/>
<text font-size="7" text-anchor="middle" fill="#111" font-weight="normal" transform="translate(143.20 414.20) scale(1.0 1.1)" stroke="#111" stroke-width="0.1" >mRNA expression</text>
<text font-size="7.5" text-anchor="middle" fill="#111" font-weight="normal" transform="translate(251.00 242.80)" stroke="#111" stroke-width="0.22" >plasma</text>
<rect x="223.20" y="248.20" width="9.32" height="11.27" fill="#fdf9d7" />
<rect x="232.52" y="248.20" width="9.32" height="11.27" fill="#fdf9d7" />
<rect x="241.84" y="248.20" width="9.32" height="11.27" fill="#fdf9d7" />
<rect x="251.16" y="248.20" width="9.32" height="11.27" fill="#fdf9d7" />
<rect x="260.48" y="248.20" width="9.32" height="11.27" fill="#fbf2c6" />
<rect x="269.80" y="248.20" width="9.32" height="11.27" fill="#fdf9d7" />
<rect x="223.20" y="259.47" width="9.32" height="11.27" fill="#fdf9d7" />
<rect x="232.52" y="259.47" width="9.32" height="11.27" fill="#fdf9d7" />
<rect x="241.84" y="259.47" width="9.32" height="11.27" fill="#fdf9d7" />
<rect x="251.16" y="259.47" width="9.32" height="11.27" fill="#fdf9d7" />
<rect x="260.48" y="259.47" width="9.32" height="11.27" fill="#fdf9d7" />
<rect x="269.80" y="259.47" width="9.32" height="11.27" fill="#fdf9d7" />
<rect x="223.20" y="270.74" width="9.32" height="11.27" fill="#fdf9d7" />
<rect x="232.52" y="270.74" width="9.32" height="11.27" fill="#fdf9d7" />
<rect x="241.84" y="270.74" width="9.32" height="11.27" fill="#fdf9d7" />
<rect x="251.16" y="270.74" width="9.32" height="11.27" fill="#fdf9d7" />
<rect x="260.48" y="270.74" width="9.32" height="11.27" fill="#fdf9d7" />
<rect x="269.80" y="270.74" width="9.32" height="11.27" fill="#fdf9d7" />
<rect x="223.20" y="282.01" width="9.32" height="11.27" fill="#fdf9d7" />
<rect x="232.52" y="282.01" width="9.32" height="11.27" fill="#fdf9d7" />
<rect x="241.84" y="282.01" width="9.32" height="11.27" fill="#fdf9d7" />
<rect x="251.16" y="282.01" width="9.32" height="11.27" fill="#fbf0c0" />
<rect x="260.48" y="282.01" width="9.32" height="11.27" fill="#fdf9d7" />
<rect x="269.80" y="282.01" width="9.32" height="11.27" fill="#fdf9d7" />
<rect x="223.20" y="293.28" width="9.32" height="11.27" fill="#fdf9d7" />
<rect x="232.52" y="293.28" width="9.32" height="11.27" fill="#fdf9d7" />
<rect x="241.84" y="293.28" width="9.32" height="11.27" fill="#fdf9d7" />
<rect x="251.16" y="293.28" width="9.32" height="11.27" fill="#fbf0c0" />
<rect x="260.48" y="293.28" width="9.32" height="11.27" fill="#fdf9d7" />
<rect x="269.80" y="293.28" width="9.32" height="11.27" fill="#fdf9d7" />
<rect x="223.20" y="304.55" width="9.32" height="11.27" fill="#fdf9d7" />
<rect x="232.52" y="304.55" width="9.32" height="11.27" fill="#fdf9d7" />
<rect x="241.84" y="304.55" width="9.32" height="11.27" fill="#f5d68a" />
<rect x="251.16" y="304.55" width="9.32" height="11.27" fill="#f3cc80" />
<rect x="260.48" y="304.55" width="9.32" height="11.27" fill="#fcf0c4" />
<rect x="269.80" y="304.55" width="9.32" height="11.27" fill="#fdf9d7" />
<rect x="223.20" y="315.82" width="9.32" height="11.27" fill="#fdf9d7" />
<rect x="232.52" y="315.82" width="9.32" height="11.27" fill="#fdf9d7" />
<rect x="241.84" y="315.82" width="9.32" height="11.27" fill="#f5d88c" />
<rect x="251.16" y="315.82" width="9.32" height="11.27" fill="#f8e4a0" />
<rect x="260.48" y="315.82" width="9.32" height="11.27" fill="#f8e4a0" />
<rect x="269.80" y="315.82" width="9.32" height="11.27" fill="#fdf9d7" />
<rect x="223.20" y="327.09" width="9.32" height="11.27" fill="#fdf9d7" />
<rect x="232.52" y="327.09" width="9.32" height="11.27" fill="#fdf9d7" />
<rect x="241.84" y="327.09" width="9.32" height="11.27" fill="#f3cc80" />
<rect x="251.16" y="327.09" width="9.32" height="11.27" fill="#f8e0a0" />
<rect x="260.48" y="327.09" width="9.32" height="11.27" fill="#f8e4a0" />
<rect x="269.80" y="327.09" width="9.32" height="11.27" fill="#fcf0c4" />
<rect x="223.20" y="338.36" width="9.32" height="11.27" fill="#fdf9d7" />
<rect x="232.52" y="338.36" width="9.32" height="11.27" fill="#fdf9d7" />
<rect x="241.84" y="338.36" width="9.32" height="11.27" fill="#f7dc90" />
<rect x="251.16" y="338.36" width="9.32" height="11.27" fill="#f7dc90" />
<rect x="260.48" y="338.36" width="9.32" height="11.27" fill="#efb868" />
<rect x="269.80" y="338.36" width="9.32" height="11.27" fill="#fdf9d7" />
<rect x="223.20" y="349.63" width="9.32" height="11.27" fill="#82163a" />
<rect x="232.52" y="349.63" width="9.32" height="11.27" fill="#82163a" />
<rect x="241.84" y="349.63" width="9.32" height="11.27" fill="#861838" />
<rect x="251.16" y="349.63" width="9.32" height="11.27" fill="#82163a" />
<rect x="260.48" y="349.63" width="9.32" height="11.27" fill="#d84a35" />
<rect x="269.80" y="349.63" width="9.32" height="11.27" fill="#e07a45" />
<rect x="223.20" y="360.90" width="9.32" height="11.27" fill="#d84030" />
<rect x="232.52" y="360.90" width="9.32" height="11.27" fill="#e06840" />
<rect x="241.84" y="360.90" width="9.32" height="11.27" fill="#bf2035" />
<rect x="251.16" y="360.90" width="9.32" height="11.27" fill="#c82a35" />
<rect x="260.48" y="360.90" width="9.32" height="11.27" fill="#861838" />
<rect x="269.80" y="360.90" width="9.32" height="11.27" fill="#e07a45" />
<rect x="223.20" y="372.17" width="9.32" height="11.27" fill="#d84a30" />
<rect x="232.52" y="372.17" width="9.32" height="11.27" fill="#e07040" />
<rect x="241.84" y="372.17" width="9.32" height="11.27" fill="#d84530" />
<rect x="251.16" y="372.17" width="9.32" height="11.27" fill="#e07045" />
<rect x="260.48" y="372.17" width="9.32" height="11.27" fill="#d03030" />
<rect x="269.80" y="372.17" width="9.32" height="11.27" fill="#82163a" />
<line x1="223.20" y1="248.20" x2="223.20" y2="383.44" stroke="rgba(30,25,15,0.5)" stroke-width="0.9" />
<line x1="232.52" y1="248.20" x2="232.52" y2="383.44" stroke="rgba(30,25,15,0.5)" stroke-width="0.9" />
<line x1="241.84" y1="248.20" x2="241.84" y2="383.44" stroke="rgba(30,25,15,0.5)" stroke-width="0.9" />
<line x1="251.16" y1="248.20" x2="251.16" y2="383.44" stroke="rgba(30,25,15,0.5)" stroke-width="0.9" />
<line x1="260.48" y1="248.20" x2="260.48" y2="383.44" stroke="rgba(30,25,15,0.5)" stroke-width="0.9" />
<line x1="269.80" y1="248.20" x2="269.80" y2="383.44" stroke="rgba(30,25,15,0.5)" stroke-width="0.9" />
<line x1="279.12" y1="248.20" x2="279.12" y2="383.44" stroke="rgba(30,25,15,0.5)" stroke-width="0.9" />
<line x1="223.20" y1="248.20" x2="279.12" y2="248.20" stroke="rgba(30,25,15,0.5)" stroke-width="0.9" />
<line x1="223.20" y1="259.47" x2="279.12" y2="259.47" stroke="rgba(30,25,15,0.5)" stroke-width="0.9" />
<line x1="223.20" y1="270.74" x2="279.12" y2="270.74" stroke="rgba(30,25,15,0.5)" stroke-width="0.9" />
<line x1="223.20" y1="282.01" x2="279.12" y2="282.01" stroke="rgba(30,25,15,0.5)" stroke-width="0.9" />
<line x1="223.20" y1="293.28" x2="279.12" y2="293.28" stroke="rgba(30,25,15,0.5)" stroke-width="0.9" />
<line x1="223.20" y1="304.55" x2="279.12" y2="304.55" stroke="rgba(30,25,15,0.5)" stroke-width="0.9" />
<line x1="223.20" y1="315.82" x2="279.12" y2="315.82" stroke="rgba(30,25,15,0.5)" stroke-width="0.9" />
<line x1="223.20" y1="327.09" x2="279.12" y2="327.09" stroke="rgba(30,25,15,0.5)" stroke-width="0.9" />
<line x1="223.20" y1="338.36" x2="279.12" y2="338.36" stroke="rgba(30,25,15,0.5)" stroke-width="0.9" />
<line x1="223.20" y1="349.63" x2="279.12" y2="349.63" stroke="rgba(30,25,15,0.5)" stroke-width="0.9" />
<line x1="223.20" y1="360.90" x2="279.12" y2="360.90" stroke="rgba(30,25,15,0.5)" stroke-width="0.9" />
<line x1="223.20" y1="372.17" x2="279.12" y2="372.17" stroke="rgba(30,25,15,0.5)" stroke-width="0.9" />
<line x1="223.20" y1="383.44" x2="279.12" y2="383.44" stroke="rgba(30,25,15,0.5)" stroke-width="0.9" />
<text font-size="8" text-anchor="end" fill="#111" font-weight="normal" transform="translate(220.20 256.33) scale(0.95 1.05)" stroke="#111" stroke-width="0.15" >WT</text>
<text font-size="8" text-anchor="end" fill="#111" font-weight="normal" transform="translate(220.20 267.61) scale(0.95 1.05)" stroke="#111" stroke-width="0.15" >WT</text>
<text font-size="8" text-anchor="end" fill="#111" font-weight="normal" transform="translate(220.20 278.88) scale(0.95 1.05)" stroke="#111" stroke-width="0.15" >Cre</text>
<text font-size="8" text-anchor="end" fill="#111" font-weight="normal" transform="translate(220.20 290.14) scale(0.95 1.05)" stroke="#111" stroke-width="0.15" >Cre</text>
<text font-size="8" text-anchor="end" fill="#111" font-weight="normal" transform="translate(220.20 301.41) scale(0.95 1.05)" stroke="#111" stroke-width="0.15" >Cre</text>
<text font-size="8" text-anchor="end" fill="#111" font-weight="normal" transform="translate(220.20 312.69) scale(0.95 1.05)" stroke="#111" stroke-width="0.15" >Cre</text>
<text font-size="8" text-anchor="end" fill="#4f9ade" font-weight="normal" transform="translate(220.20 323.95) scale(0.95 1.05)" >Cre</text>
<text font-size="8" text-anchor="end" fill="#4f9ade" font-weight="normal" transform="translate(220.20 335.22) scale(0.95 1.05)" >Cre</text>
<text font-size="8" text-anchor="end" fill="#4f9ade" font-weight="normal" transform="translate(220.20 346.50) scale(0.95 1.05)" >Cre</text>
<text font-size="8" text-anchor="end" fill="#4f9ade" font-weight="normal" transform="translate(220.20 357.76) scale(0.95 1.05)" >WT</text>
<text font-size="8" text-anchor="end" fill="#4f9ade" font-weight="normal" transform="translate(220.20 369.03) scale(0.95 1.05)" >WT</text>
<text font-size="8" text-anchor="end" fill="#4f9ade" font-weight="normal" transform="translate(220.20 380.30) scale(0.95 1.05)" >WT</text>
<text font-size="8" text-anchor="start" fill="#111" font-weight="normal" transform="translate(230.46 417.80) rotate(-90) scale(1.0 1.1)" stroke="#111" stroke-width="0.12" >TNF-α</text>
<text font-size="8" text-anchor="start" fill="#111" font-weight="normal" transform="translate(239.78 417.80) rotate(-90) scale(1.0 1.1)" stroke="#111" stroke-width="0.12" >CCL2</text>
<text font-size="8" text-anchor="start" fill="#111" font-weight="normal" transform="translate(249.10 417.80) rotate(-90) scale(1.0 1.1)" stroke="#111" stroke-width="0.12" >CCL4</text>
<text font-size="8" text-anchor="start" fill="#111" font-weight="normal" transform="translate(258.42 417.80) rotate(-90) scale(1.0 1.1)" stroke="#111" stroke-width="0.12" >CCL5</text>
<text font-size="8" text-anchor="start" fill="#111" font-weight="normal" transform="translate(267.74 417.80) rotate(-90) scale(1.0 1.1)" stroke="#111" stroke-width="0.12" >IL-12p40</text>
<text font-size="8" text-anchor="start" fill="#111" font-weight="normal" transform="translate(277.06 417.80) rotate(-90) scale(1.0 1.1)" stroke="#111" stroke-width="0.12" >IL-6</text>
<line x1="279.60" y1="254.00" x2="279.60" y2="307.00" stroke="#666" stroke-width="1" />
<line x1="279.60" y1="263.00" x2="279.60" y2="277.00" stroke="#222" stroke-width="1" />
<line x1="279.60" y1="287.60" x2="279.60" y2="293.50" stroke="#222" stroke-width="1" />
<line x1="279.60" y1="296.00" x2="279.60" y2="305.00" stroke="#444" stroke-width="1" />
<line x1="280.40" y1="308.00" x2="280.40" y2="344.00" stroke="#777" stroke-width="1" />
<line x1="280.40" y1="318.00" x2="280.40" y2="332.00" stroke="#333" stroke-width="1" />
<polyline points="279.80,278.10 283.40,278.10 283.40,333.90 280.60,333.90" fill="none" stroke="#555" stroke-width="1"/>
<polyline points="283.40,306.50 320.90,306.50 320.90,364.20 294.60,364.20" fill="none" stroke="#555" stroke-width="1"/>
<polyline points="279.00,355.40 294.60,355.40 294.60,373.00 289.80,373.00" fill="none" stroke="#555" stroke-width="1"/>
<polyline points="279.00,367.20 289.80,367.20 289.80,378.40 279.00,378.40" fill="none" stroke="#555" stroke-width="1"/>
<line x1="320.90" y1="335.00" x2="325.20" y2="335.00" stroke="#555" stroke-width="1" />
<text font-size="7" text-anchor="start" fill="#111" font-weight="normal" transform="translate(296.00 395.40) scale(1.0 1.1)" stroke="#111" stroke-width="0.12" >low</text>
<text font-size="7" text-anchor="end" fill="#111" font-weight="normal" transform="translate(355.70 395.40) scale(1.0 1.1)" stroke="#111" stroke-width="0.12" >high</text>
<rect x="301.40" y="397.50" width="49.40" height="7.20" fill="url(#cb)" stroke="#999" stroke-width="0.6"/>
<text font-size="7" text-anchor="middle" fill="#111" font-weight="normal" transform="translate(326.00 414.20) scale(1.0 1.1)" stroke="#111" stroke-width="0.1" >plasma concentration</text>
<line x1="428.70" y1="258.20" x2="428.70" y2="349.40" stroke="#111" stroke-width="1" />
<line x1="425.70" y1="348.90" x2="428.70" y2="348.90" stroke="#111" stroke-width="1" />
<text font-size="8.3" text-anchor="end" fill="#111" font-weight="normal" transform="translate(423.20 351.80)" stroke="#111" stroke-width="0.12" >0</text>
<line x1="425.70" y1="331.14" x2="428.70" y2="331.14" stroke="#111" stroke-width="1" />
<text font-size="8.3" text-anchor="end" fill="#111" font-weight="normal" transform="translate(423.20 334.04)" stroke="#111" stroke-width="0.12" >1000</text>
<line x1="425.70" y1="313.38" x2="428.70" y2="313.38" stroke="#111" stroke-width="1" />
<text font-size="8.3" text-anchor="end" fill="#111" font-weight="normal" transform="translate(423.20 316.28)" stroke="#111" stroke-width="0.12" >2000</text>
<line x1="425.70" y1="295.62" x2="428.70" y2="295.62" stroke="#111" stroke-width="1" />
<text font-size="8.3" text-anchor="end" fill="#111" font-weight="normal" transform="translate(423.20 298.52)" stroke="#111" stroke-width="0.12" >3000</text>
<line x1="425.70" y1="277.86" x2="428.70" y2="277.86" stroke="#111" stroke-width="1" />
<text font-size="8.3" text-anchor="end" fill="#111" font-weight="normal" transform="translate(423.20 280.76)" stroke="#111" stroke-width="0.12" >4000</text>
<line x1="425.70" y1="260.10" x2="428.70" y2="260.10" stroke="#111" stroke-width="1" />
<text font-size="8.3" text-anchor="end" fill="#111" font-weight="normal" transform="translate(423.20 263.00)" stroke="#111" stroke-width="0.12" >5000</text>
<text font-size="8.6" text-anchor="middle" fill="#111" font-weight="normal" transform="translate(398.90 303.60) rotate(-90) scale(0.73 1.05)" stroke="#111" stroke-width="0.35" >ALT (U/l)</text>
<line x1="428.20" y1="349.00" x2="510.50" y2="349.00" stroke="#111" stroke-width="1.1" />
<line x1="442.00" y1="349.00" x2="442.00" y2="351.20" stroke="#111" stroke-width="0.9" />
<line x1="460.40" y1="349.00" x2="460.40" y2="351.20" stroke="#111" stroke-width="0.9" />
<line x1="478.50" y1="349.00" x2="478.50" y2="351.20" stroke="#111" stroke-width="0.9" />
<line x1="497.20" y1="349.00" x2="497.20" y2="351.20" stroke="#111" stroke-width="0.9" />
<rect x="455.3" y="283.3" width="10.5" height="38" fill="#c9c9d1" stroke="#222" stroke-width="1"/>
<line x1="455.30" y1="310.40" x2="465.80" y2="310.40" stroke="#222" stroke-width="1" />
<line x1="460.50" y1="275.30" x2="460.50" y2="283.30" stroke="#222" stroke-width="1" />
<line x1="460.50" y1="321.30" x2="460.50" y2="323.90" stroke="#222" stroke-width="1" />
<circle cx="460.4" cy="275.3" r="2.4" fill="#2b4d8c"/>
<circle cx="460.4" cy="306.3" r="2.4" fill="#2b4d8c"/>
<circle cx="460.4" cy="314.8" r="2.4" fill="#2b4d8c"/>
<circle cx="460.4" cy="323.9" r="2.4" fill="#2b4d8c"/>
<circle cx="439.6" cy="348.6" r="2.4" fill="#2b4d8c"/>
<circle cx="444.5" cy="348.6" r="2.4" fill="#2b4d8c"/>
<circle cx="475.9" cy="348.6" r="2.4" fill="#b3102c"/>
<circle cx="481.1" cy="348.3" r="2.4" fill="#b3102c"/>
<circle cx="494" cy="346.7" r="2.4" fill="#b3102c"/>
<circle cx="497" cy="348.2" r="2.4" fill="#b3102c"/>
<circle cx="500.2" cy="347.1" r="2.4" fill="#b3102c"/>
<circle cx="495.2" cy="348.8" r="2.4" fill="#b3102c"/>
<polyline points="460.40,267.00 460.40,252.60 497.40,252.60 497.40,302.40" fill="none" stroke="#333" stroke-width="1"/>
<circle cx="477.5" cy="248.4" r="0.95" fill="#111"/><circle cx="480.8" cy="248.4" r="0.95" fill="#111"/>
<text font-size="8.2" text-anchor="end" fill="#111" font-weight="normal" transform="translate(445.20 358.20) rotate(-45) scale(1.0 1.05)" stroke="#111" stroke-width="0.05" >ctrl</text>
<text font-size="8.2" text-anchor="end" fill="#111" font-weight="normal" transform="translate(463.60 358.20) rotate(-45) scale(1.0 1.05)" stroke="#111" stroke-width="0.05" >aCD40</text>
<text font-size="8.2" text-anchor="end" fill="#111" font-weight="normal" transform="translate(481.70 358.20) rotate(-45) scale(1.0 1.05)" stroke="#111" stroke-width="0.05" >ctrl</text>
<text font-size="8.2" text-anchor="end" fill="#111" font-weight="normal" transform="translate(500.40 358.20) rotate(-45) scale(1.0 1.05)" stroke="#111" stroke-width="0.05" >aCD40</text>
<line x1="433.90" y1="380.20" x2="468.40" y2="380.20" stroke="#222" stroke-width="0.8" />
<line x1="479.00" y1="380.20" x2="509.70" y2="380.20" stroke="#222" stroke-width="0.8" />
<text font-size="8" text-anchor="start" fill="#111" font-weight="normal" transform="translate(433.90 388.30) scale(1.0 1.1)" stroke="#111" stroke-width="0.12" >CD40<tspan font-size="4.5" dy="-4">flox/flox</tspan></text>
<text font-size="8" text-anchor="middle" fill="#111" font-weight="normal" transform="translate(494.40 389.30) scale(1.0 1.1)" stroke="#111" stroke-width="0.12" >LysMCre/</text>
<text font-size="8" text-anchor="start" fill="#111" font-weight="normal" transform="translate(475.80 398.20) scale(1.0 1.1)" stroke="#111" stroke-width="0.12" >CD40<tspan font-size="4.5" dy="-4">flox/flox</tspan></text>
</g></svg></body></html>
